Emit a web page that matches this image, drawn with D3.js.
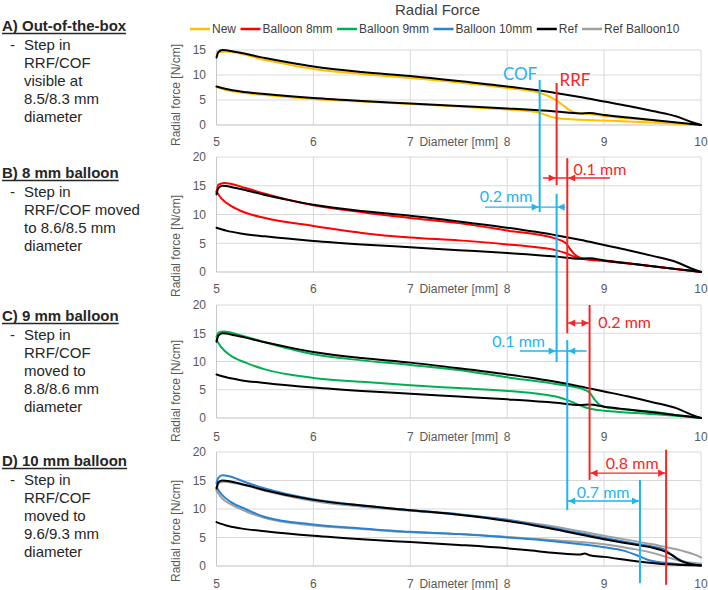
<!DOCTYPE html>
<html><head><meta charset="utf-8">
<script src="https://cdn.jsdelivr.net/npm/d3@7"></script>
<style>
html,body{margin:0;padding:0;background:#fff;}
svg{display:block;font-family:"Liberation Sans",Arial,sans-serif;}
</style></head>
<body><svg id="c" width="708" height="590"></svg>
<script>
// ---------------- DATA ----------------
const chartTitle = "Radial Force";
const xTicks = [5, 6, 7, 8, 9, 10];
const yTicksA = [0, 5, 10, 15];
const yTicksBCD = [0, 5, 10, 15, 20];
const legendNames = ["New", "Balloon 8mm", "Balloon 9mm", "Balloon 10mm", "Ref", "Ref Balloon10"];

// Reference stent (panels A-C): [diameter mm, radial force N/cm]
const refUpper = [[5,13.5],[5.02,14.6],[5.06,15.0],[5.2,14.6],[5.5,13.4],[5.75,12.5],[6,11.7],[6.5,10.6],[7,9.8],[7.5,8.8],[8,7.7],[8.5,6.4],[8.75,5.6],[9,4.7],[9.25,3.8],[9.5,2.8],[9.75,1.7],[9.9,0.6],[10,0]];
const refLower = [[5,7.7],[5.1,7.2],[5.25,6.7],[5.5,6.2],[6,5.4],[6.5,4.8],[7,4.3],[7.5,3.8],[8,3.3],[8.5,2.7],[8.75,2.3],[8.85,2.4],[9,2.0],[9.25,1.5],[9.5,1.0],[9.75,0.5],[10,0]];
// New (out-of-the-box)
const newUpper = [[5,14.0],[5.03,14.6],[5.1,14.7],[5.5,13.0],[6,11.2],[6.5,10.2],[7,9.4],[7.5,8.5],[8,7.4],[8.3,6.6],[8.4,6.0],[8.5,5.0],[8.58,3.9],[8.65,2.9],[8.7,2.5],[8.8,2.3],[9,1.8],[9.5,0.9],[9.8,0.3],[10,0]];
const newLower = [[5,7.6],[5.1,7.0],[5.25,6.5],[5.5,6.0],[6,5.2],[6.5,4.7],[7,4.2],[7.5,3.7],[8,3.1],[8.3,2.6],[8.4,2.0],[8.5,1.4],[8.7,1.1],[9,0.9],[9.5,0.5],[9.8,0.2],[10,0]];
// Balloon 8 mm
const b8Upper = [[5,13.8],[5.02,15.2],[5.08,15.5],[5.3,14.6],[5.5,13.6],[6,11.6],[6.5,10.4],[7,9.4],[7.5,8.5],[8,7.2],[8.5,5.8],[8.6,5.1],[8.65,4.0],[8.7,3.0],[8.75,2.5],[8.85,2.2],[9,2.0],[9.5,1.0],[9.8,0.4],[10,0]];
const b8Lower = [[5,14.0],[5.05,12.8],[5.15,11.5],[5.3,10.3],[5.5,9.4],[6,8.0],[6.5,6.8],[7,6.0],[7.5,5.5],[8,4.8],[8.3,4.3],[8.5,3.8],[8.6,3.3],[8.7,2.6],[8.8,2.2],[9,1.9],[9.5,1.0],[9.8,0.4],[10,0]];
// Balloon 9 mm
const b9Upper = [[5,14.3],[5.02,15.1],[5.07,15.3],[5.3,14.4],[5.5,13.4],[6,11.3],[6.5,10.2],[7,9.4],[7.5,8.5],[8,7.2],[8.5,6.0],[8.8,5.0],[8.85,4.5],[8.9,3.3],[8.95,2.4],[9,2.0],[9.5,1.1],[9.8,0.4],[10,0]];
const b9Lower = [[5,13.8],[5.05,12.5],[5.15,11.0],[5.3,9.8],[5.5,8.6],[6,7.1],[6.5,6.4],[7,5.8],[7.5,5.3],[8,4.8],[8.5,3.8],[8.6,3.3],[8.7,2.6],[8.8,1.9],[8.9,1.5],[9,1.3],[9.5,0.7],[9.8,0.3],[10,0]];
// Balloon 10 mm
const b10Upper = [[5,14.5],[5.02,15.5],[5.06,15.9],[5.12,15.8],[5.3,14.7],[5.5,13.6],[6,11.7],[6.5,10.6],[7,9.8],[7.5,9.1],[8,8.1],[8.5,6.6],[9,4.9],[9.3,4.0],[9.5,3.4],[9.62,2.9],[9.68,2.2],[9.75,1.4],[9.85,0.6],[10,0.1]];
const b10Lower = [[5,13.8],[5.05,12.6],[5.15,11.2],[5.3,10.0],[5.5,8.6],[6,7.3],[6.5,6.6],[7,6.0],[7.5,5.6],[8,5.0],[8.5,4.3],[9,3.3],[9.2,2.7],[9.35,1.8],[9.45,1.1],[9.6,0.6],[9.8,0.3],[10,0.1]];
// Ref Balloon10
const refB10Upper = [[5,13.3],[5.03,14.6],[5.08,14.8],[5.3,14.1],[5.5,13.2],[6,11.4],[6.5,10.4],[7,9.7],[7.5,9.0],[8,8.1],[8.5,6.9],[9,5.3],[9.5,3.8],[9.8,2.7],[9.95,1.9],[10,1.5]];
const refB10Lower = [[5,13.2],[5.05,12.0],[5.15,10.8],[5.3,9.6],[5.5,8.4],[6,7.1],[6.5,6.5],[7,5.9],[7.5,5.6],[8,5.1],[8.5,4.5],[9,3.8],[9.3,3.0],[9.5,2.3],[9.7,1.3],[9.85,0.7],[10,0.4]];
// Ref in panel D
const refDUpper = [[5,13.6],[5.02,14.7],[5.06,15.0],[5.3,14.2],[5.5,13.3],[6,11.6],[6.5,10.6],[7,9.8],[7.5,9.0],[8,7.9],[8.5,6.4],[9,4.7],[9.3,3.8],[9.5,3.2],[9.62,2.6],[9.7,1.9],[9.78,1.0],[9.88,0.4],[10,0.1]];
const refDLower = [[5,7.7],[5.1,7.1],[5.25,6.6],[5.5,6.1],[6,5.3],[6.5,4.7],[7,4.2],[7.5,3.7],[8,3.1],[8.25,2.7],[8.5,2.3],[8.75,2.0],[8.8,2.2],[8.85,1.9],[9,1.6],[9.35,0.8],[9.65,0.3],[10,0.1]];

// Annotation markers (diameter mm; ends given as [panel, force value])
const markerLines = [
  {kind:"COF", x:8.335, top:["A",9.0],  bot:["B",10.4]},
  {kind:"RRF", x:8.51,  top:["A",8.4],  bot:["B",15.1]},
  {kind:"RRF", x:8.62,  top:["B",19.8], bot:["C",15.0]},
  {kind:"COF", x:8.51,  top:["B",13.6], bot:["C",9.9]},
  {kind:"RRF", x:8.85,  top:["C",20.0], bot:["D",15.1]},
  {kind:"COF", x:8.62,  top:["C",13.8], bot:["D",9.8]},
  {kind:"RRF", x:9.64,  top:["D",20.4], bot:["D",-3.3]},
  {kind:"COF", x:9.37,  top:["D",15.1], bot:["D",-3.0]}
];
const markerLabels = [
  {kind:"COF", text:"COF", x:8.31, y:["A",9.0], anchor:"end"},
  {kind:"RRF", text:"RRF", x:8.54, y:["A",7.9], anchor:"start"}
];
const shifts = [
  {kind:"RRF", panel:"B", y:16.35, x0:8.51, x1:8.62, inward:true,  ext:[8.37,9.06], text:"0.1 mm", tx:8.685, ty:16.95, anchor:"start"},
  {kind:"COF", panel:"B", y:11.3,  x0:8.335,x1:8.51, inward:true,  ext:[7.77,8.6],  text:"0.2 mm", tx:8.26,  ty:12.25, anchor:"end"},
  {kind:"RRF", panel:"C", y:16.8,  x0:8.62, x1:8.85, inward:false, ext:null,        text:"0.2 mm", tx:8.94,  ty:16.0,  anchor:"start"},
  {kind:"COF", panel:"C", y:11.86, x0:8.51, x1:8.62, inward:true,  ext:[8.13,8.82], text:"0.1 mm", tx:8.39,  ty:12.48, anchor:"end"},
  {kind:"RRF", panel:"D", y:16.3,  x0:8.85, x1:9.64, inward:false, ext:null,        text:"0.8 mm", tx:9.29,  ty:17.1,  anchor:"middle"},
  {kind:"COF", panel:"D", y:11.4,  x0:8.62, x1:9.37, inward:false, ext:null,        text:"0.7 mm", tx:8.99,  ty:12.0,  anchor:"middle"}
];

const notes = [
  {head:"A) Out-of-the-box", lines:["Step in","RRF/COF","visible at","8.5/8.3 mm","diameter"]},
  {head:"B) 8 mm balloon",   lines:["Step in","RRF/COF moved","to 8.6/8.5 mm","diameter"]},
  {head:"C) 9 mm balloon",   lines:["Step in","RRF/COF","moved to","8.8/8.6 mm","diameter"]},
  {head:"D) 10 mm balloon",  lines:["Step in","RRF/COF","moved to","9.6/9.3 mm","diameter"]}
];

// ---------------- STYLE / LAYOUT ----------------
const colors = {"New":"#FFC000","Balloon 8mm":"#FF0000","Balloon 9mm":"#00B050","Balloon 10mm":"#2B83CF","Ref":"#000000","Ref Balloon10":"#A0A0A0"};
const annoColor = {COF:"#1EB4F0", RRF:"#F52626"};

const panels = [
  {key:"A", ticks:yTicksA,  y0:125, y1:50,  lblOff:20.5, titleY:95,
   series:[["New",newUpper,newLower],["Ref",refUpper,refLower]]},
  {key:"B", ticks:yTicksBCD, y0:272, y1:157, lblOff:20.5, titleY:246,
   series:[["Balloon 8mm",b8Upper,b8Lower],["Ref",refUpper,refLower]]},
  {key:"C", ticks:yTicksBCD, y0:418, y1:305, lblOff:23,   titleY:391,
   series:[["Balloon 9mm",b9Upper,b9Lower],["Ref",refUpper,refLower]]},
  {key:"D", ticks:yTicksBCD, y0:566, y1:452, lblOff:21.5, titleY:531,
   series:[["Ref Balloon10",refB10Upper,refB10Lower],["Balloon 10mm",b10Upper,b10Lower],["Ref",refDUpper,refDLower]]}
];
const notePos = [{y:31},{y:178},{y:321},{y:466}];

const svg = d3.select("#c");
const x = d3.scaleLinear().domain([5,10]).range([216.5,701]);
const yScales = {};
panels.forEach(p => {
  yScales[p.key] = d3.scaleLinear().domain([0, d3.max(p.ticks)]).range([p.y0, p.y1]);
});
const Y = ([k,v]) => yScales[k](v);

// Title
svg.append("text").attr("x",437.5).attr("y",15).attr("text-anchor","middle")
  .attr("font-size",15).attr("fill","#404040").text(chartTitle);

// Legend
let lx = 190;
legendNames.forEach(n => {
  svg.append("line").attr("x1",lx).attr("x2",lx+20).attr("y1",29).attr("y2",29)
    .attr("stroke",colors[n]).attr("stroke-width",2.5);
  const t = svg.append("text").attr("x",lx+22).attr("y",33.3).attr("font-size",12)
    .attr("fill","#404040").text(n);
  lx += 22 + t.node().getComputedTextLength() + 4.5;
});

// Panels
panels.forEach(p => {
  const y = yScales[p.key];
  const g = svg.append("g");
  // grid
  g.selectAll(".hg").data(p.ticks.filter(t=>t>0)).join("line")
    .attr("x1",x(5)).attr("x2",x(10)).attr("y1",d=>y(d)).attr("y2",d=>y(d))
    .attr("stroke","#D9D9D9").attr("stroke-width",1);
  g.selectAll(".vg").data(xTicks).join("line")
    .attr("x1",d=>x(d)).attr("x2",d=>x(d)).attr("y1",y(d3.max(p.ticks))).attr("y2",y(0))
    .attr("stroke",d=>d===5?"#C8C8C8":"#D9D9D9").attr("stroke-width",1);
  g.append("line").attr("x1",x(5)).attr("x2",x(10)).attr("y1",y(0)).attr("y2",y(0))
    .attr("stroke","#BFBFBF").attr("stroke-width",1);
  // y tick labels
  g.selectAll(".yl").data(p.ticks).join("text")
    .attr("x",206).attr("y",d=>y(d)).attr("dy","0.36em").attr("text-anchor","end")
    .attr("font-size",12).attr("fill","#595959").text(d=>d);
  // x tick labels
  g.selectAll(".xl").data(xTicks).join("text")
    .attr("x",d=>x(d)).attr("y",y(0)+p.lblOff).attr("text-anchor","middle")
    .attr("font-size",12).attr("fill","#595959").text(d=>d);
  g.append("text").attr("x",x(7.5)).attr("y",y(0)+p.lblOff).attr("text-anchor","middle")
    .attr("font-size",12).attr("fill","#595959").text("Diameter [mm]");
  // y title
  g.append("text").attr("transform",`translate(180,${p.titleY}) rotate(-90)`)
    .attr("text-anchor","middle").attr("font-size",12).attr("fill","#595959")
    .text("Radial force [N/cm]");
  // curves
  const ln = d3.line().x(d=>x(d[0])).y(d=>y(d[1])).curve(d3.curveMonotoneX);
  p.series.forEach(([name, up, lo]) => {
    [up, lo].forEach(arr => {
      g.append("path").attr("d", ln(arr)).attr("fill","none")
        .attr("stroke",colors[name]).attr("stroke-width",2)
        .attr("stroke-linejoin","round").attr("stroke-linecap","round");
    });
  });
});

// Annotations
const ag = svg.append("g");
markerLines.forEach(m => {
  ag.append("line").attr("x1",x(m.x)).attr("x2",x(m.x)).attr("y1",Y(m.top)).attr("y2",Y(m.bot))
    .attr("stroke",annoColor[m.kind]).attr("stroke-width",2);
});
markerLabels.forEach(m => {
  ag.append("text").attr("x",x(m.x)).attr("y",Y(m.y)).attr("text-anchor",m.anchor)
    .attr("font-family","Lato, 'Liberation Sans', sans-serif")
    .attr("font-size",17).attr("fill",annoColor[m.kind]).text(m.text);
});
function arrowHead(px, py, dir, col) {
  const L = 7, W = 3.6;
  ag.append("path").attr("d",`M${px},${py}L${px-dir*L},${py-W}L${px-dir*L},${py+W}Z`).attr("fill",col);
}
shifts.forEach(s => {
  const col = annoColor[s.kind];
  const yy = yScales[s.panel](s.y);
  const a = x(s.x0), b = x(s.x1);
  const e0 = s.ext ? x(s.ext[0]) : a, e1 = s.ext ? x(s.ext[1]) : b;
  ag.append("line").attr("x1",e0).attr("x2",e1).attr("y1",yy).attr("y2",yy)
    .attr("stroke",col).attr("stroke-width",1.3);
  if (s.inward) { arrowHead(a-1, yy, 1, col); arrowHead(b+1, yy, -1, col); }
  else { arrowHead(a+1, yy, -1, col); arrowHead(b-1, yy, 1, col); }
  ag.append("text").attr("x",x(s.tx)).attr("y",yScales[s.panel](s.ty)).attr("text-anchor",s.anchor)
    .attr("font-family","Lato, 'Liberation Sans', sans-serif")
    .attr("font-size",16).attr("fill",col).text(s.text);
});

// Left notes
notes.forEach((n,i) => {
  const by = notePos[i].y;
  const h = svg.append("text").attr("x",2).attr("y",by).attr("font-size",15)
    .attr("font-weight","bold").attr("fill","#262626").text(n.head);
  const w = h.node().getComputedTextLength();
  svg.append("line").attr("x1",2).attr("x2",2+w).attr("y1",by+2.5).attr("y2",by+2.5)
    .attr("stroke","#262626").attr("stroke-width",1.3);
  n.lines.forEach((l,j) => {
    const yy = by + 19 + j*18;
    if (j===0) svg.append("text").attr("x",10).attr("y",yy).attr("font-size",15).attr("fill","#262626").text("-");
    svg.append("text").attr("x",24).attr("y",yy).attr("font-size",15).attr("fill","#262626").text(l);
  });
});
</script></body></html>
